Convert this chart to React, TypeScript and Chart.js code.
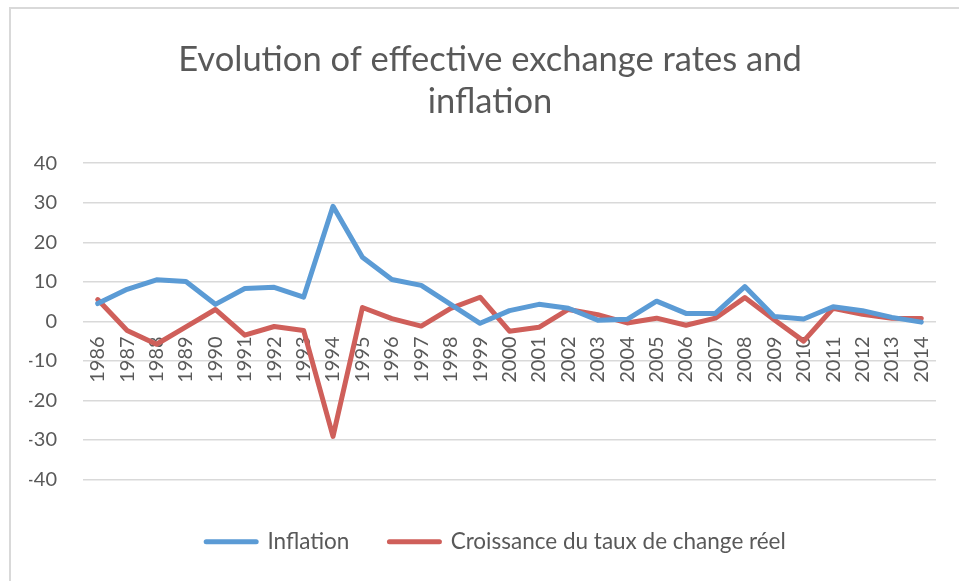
import React, { useEffect, useRef } from "react";
import { Chart, registerables } from "chart.js";

Chart.register(...registerables);

const years: string[] = [
  "1986", "1987", "1988", "1989", "1990", "1991", "1992", "1993", "1994", "1995",
  "1996", "1997", "1998", "1999", "2000", "2001", "2002", "2003", "2004", "2005",
  "2006", "2007", "2008", "2009", "2010", "2011", "2012", "2013", "2014",
];

const inflation: number[] = [
  4.5, 8.1, 10.5, 10.1, 4.3, 8.3, 8.6, 6.1, 29.1, 16.2,
  10.6, 9.1, 4.3, -0.5, 2.7, 4.3, 3.3, 0.3, 0.5, 5.1,
  2.0, 2.0, 8.8, 1.2, 0.6, 3.7, 2.7, 1.0, -0.2,
];

const croissance: number[] = [
  5.5, -2.3, -5.8, -1.4, 3.0, -3.5, -1.3, -2.3, -29.1, 3.5,
  0.7, -1.2, 3.3, 6.1, -2.5, -1.5, 3.0, 1.7, -0.4, 0.8,
  -1.0, 0.8, 6.0, 0.4, -5.0, 3.3, 1.8, 0.8, 0.7,
];

const titleLines: string[] = ["Evolution of effective exchange rates and", "inflation"];
const seriesNames: string[] = ["Inflation", "Croissance du taux de change réel"];

const FONT = "Lato, 'Open Sans', sans-serif";
const TEXT = "#595959";
const GRID = "#d9d9d9";
const BLUE = "#5b9bd5";
const RED = "#cf5f5a";

// Horizontal nudges for the title and legend blocks (the reference centres
// them slightly differently from the plot area).
const boxShift = {
  id: "boxShift",
  afterLayout(chart: any) {
    if (chart.titleBlock) {
      chart.titleBlock.left += 7.5;
      chart.titleBlock.right += 7.5;
    }
    if (chart.legend) {
      chart.legend.left += 13.5;
      chart.legend.right += 13.5;
    }
  },
};

export default function App() {
  const ref = useRef<HTMLCanvasElement | null>(null);

  useEffect(() => {
    if (!ref.current) return;
    const chart = new Chart(ref.current, {
      type: "line",
      data: {
        labels: years,
        datasets: [
          {
            label: seriesNames[0],
            data: inflation,
            borderColor: BLUE,
            backgroundColor: BLUE,
            borderWidth: 5,
            pointRadius: 0,
            borderCapStyle: "round",
            borderJoinStyle: "round",
            tension: 0,
          },
          {
            label: seriesNames[1],
            data: croissance,
            borderColor: RED,
            backgroundColor: RED,
            borderWidth: 5,
            pointRadius: 0,
            borderCapStyle: "round",
            borderJoinStyle: "round",
            tension: 0,
          },
        ],
      },
      plugins: [boxShift],
      options: {
        responsive: false,
        animation: false,
        devicePixelRatio: 1,
        layout: { padding: { left: 19, right: 34, top: 0, bottom: 18 } },
        plugins: {
          title: {
            display: true,
            text: titleLines,
            color: TEXT,
            font: { family: FONT, size: 34.5, weight: "normal", lineHeight: 1.22 },
            padding: { top: 31, bottom: 40 },
          },
          legend: {
            position: "bottom",
            title: {
              display: true,
              text: "",
              font: { size: 1, lineHeight: 1 },
              padding: { top: 10, bottom: 0 },
            },
            labels: {
              boxWidth: 50,
              boxHeight: 0.1,
              color: TEXT,
              font: { family: FONT, size: 22.5 },
              padding: 40,
            },
          },
          tooltip: { enabled: false },
        },
        scales: {
          x: {
            position: { y: 0 },
            offset: true,
            grid: { display: false, drawTicks: false, offset: true },
            border: { display: false },
            ticks: {
              color: TEXT,
              font: { family: FONT, size: 20 },
              minRotation: 90,
              maxRotation: 90,
              autoSkip: false,
              padding: 15,
            },
          },
          y: {
            min: -40,
            max: 40,
            afterFit: (scale: any) => {
              scale.width = 54;
            },
            grid: { color: GRID, lineWidth: 1.5, drawTicks: false },
            border: { display: false },
            ticks: {
              stepSize: 10,
              color: TEXT,
              font: { family: FONT, size: 20 },
              padding: 26,
            },
          },
        },
      },
    });
    return () => chart.destroy();
  }, []);

  return (
    <div
      style={{
        position: "fixed",
        left: 0,
        top: 0,
        width: 959,
        height: 581,
        overflow: "hidden",
        background: "#fff",
      }}
    >
      <div
        style={{
          position: "absolute",
          left: 9,
          top: 7,
          width: 1000,
          height: 650,
          border: `2px solid ${GRID}`,
          boxSizing: "border-box",
        }}
      />
      <canvas
        ref={ref}
        width={960}
        height={573}
        style={{ position: "absolute", left: 10, top: 8, width: 960, height: 573 }}
      />
    </div>
  );
}
